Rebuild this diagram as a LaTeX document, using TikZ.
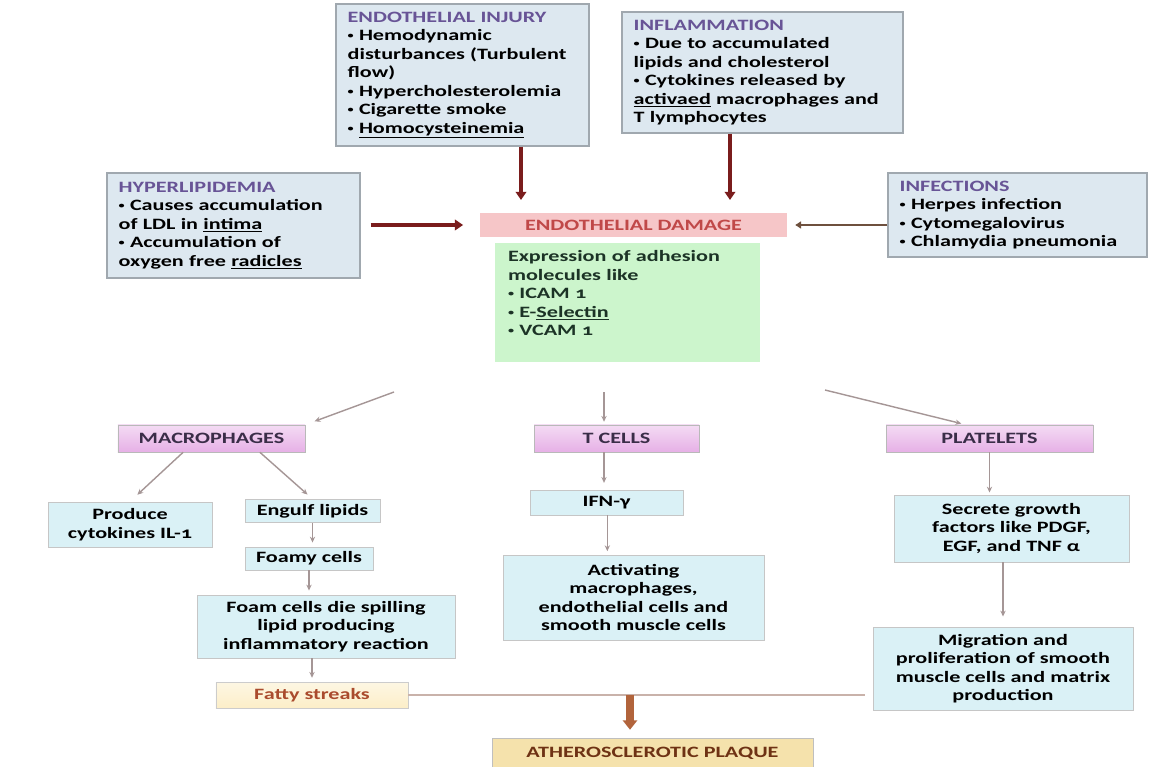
\documentclass[tikz,border=0pt]{standalone}
\usepackage{fontspec}
\usepackage{graphicx}
\setmainfont{Carlito}[FakeStretch=1.4, Numbers=OldStyle]
\definecolor{BoxBlue}{RGB}{221,232,240}
\definecolor{BoxEdge}{RGB}{160,168,175}
\definecolor{TitlePurple}{RGB}{104,84,150}
\definecolor{DarkRed}{RGB}{122,28,28}
\definecolor{DamagePink}{RGB}{246,198,200}
\definecolor{DamageText}{RGB}{192,72,72}
\definecolor{AdhesionGreen}{RGB}{204,245,204}
\definecolor{AdhesionText}{RGB}{28,51,38}
\definecolor{CellPink}{RGB}{230,176,230}
\definecolor{CellText}{RGB}{58,45,72}
\definecolor{CellCyan}{RGB}{218,241,246}
\definecolor{ArrowGrey}{RGB}{165,150,150}
\definecolor{StreakCream}{RGB}{252,238,200}
\definecolor{StreakText}{RGB}{170,75,45}
\definecolor{PlaqueTan}{RGB}{245,226,172}
\definecolor{PlaqueText}{RGB}{110,50,20}
\definecolor{PlaqueArrow}{RGB}{178,100,60}
\definecolor{InfectBrown}{RGB}{110,80,62}
\definecolor{JoinGrey}{RGB}{201,178,170}
\usetikzlibrary{arrows.meta, shadings}
\newcommand{\bul}{\raisebox{0.12em}{\scalebox{0.55}{\textbullet}}}

\begin{document}
\begin{tikzpicture}[
    x=0.03cm, y=-0.03cm,
    every node/.style={font=\fontsize{13.5}{15.8}\selectfont\bfseries, inner sep=4pt},
    srcbox/.style={draw=BoxEdge, fill=BoxBlue, line width=1.2pt, align=left, inner xsep=0.35cm},
    damagebar/.style={fill=DamagePink, text=DamageText, align=center},
    adhesion/.style={fill=AdhesionGreen, text=AdhesionText, align=left, inner xsep=0.39cm},
    cellhead/.style={draw=gray!55, top color=CellPink!45, bottom color=CellPink, text=CellText, align=center},
    cellbox/.style={draw=gray!45, fill=CellCyan, line width=0.8pt, align=center},
    streak/.style={draw=gray!40, top color=StreakCream!50, bottom color=StreakCream, text=StreakText, align=center},
    plaquebox/.style={draw=gray!50, fill=PlaqueTan, text=PlaqueText, align=center},
    bigarrow/.style={-{Triangle[length=7pt, width=9pt]}, DarkRed, line width=3.8pt},
    infarrow/.style={-{Triangle[length=5pt, width=6pt]}, InfectBrown, line width=2.2pt},
    greyarrow/.style={-{Stealth[length=5pt, width=4.5pt]}, ArrowGrey, line width=1.2pt},
    joinline/.style={JoinGrey, line width=1.5pt},
    plaquearrow/.style={-{Triangle[length=8pt, width=12pt]}, PlaqueArrow, line width=7pt}
]
\path[use as bounding box, fill=white] (0,0) rectangle (1173,767);

\node[srcbox, text width=6.89cm, minimum height=4.26cm] (injury) at (462.5,75)
    {{\color{TitlePurple}ENDOTHELIAL INJURY}\\
     \bul{} Hemodynamic\\
     disturbances (Turbulent\\
     flow)\\
     \bul{} Hypercholesterolemia\\
     \bul{} Cigarette smoke\\
     \bul{} \underline{Homocysteinemia}};
\node[srcbox, text width=7.73cm, minimum height=3.63cm] (inflam) at (762.5,72.5)
    {{\color{TitlePurple}INFLAMMATION}\\
     \bul{} Due to accumulated\\
     lipids and cholesterol\\
     \bul{} Cytokines released by\\
     \underline{activaed} macrophages and\\
     T lymphocytes};
\node[srcbox, text width=6.89cm, minimum height=3.15cm] (hyper) at (233.5,225.5)
    {{\color{TitlePurple}HYPERLIPIDEMIA}\\
     \bul{} Causes accumulation\\
     of LDL in \underline{intima}\\
     \bul{} Accumulation of\\
     oxygen free \underline{radicles}};
\node[srcbox, text width=7.07cm, minimum height=2.52cm] (infect) at (1017.5,215)
    {{\color{TitlePurple}INFECTIONS}\\
     \bul{} Herpes infection\\
     \bul{} Cytomegalovirus\\
     \bul{} Chlamydia pneumonia};

\node[damagebar, minimum width=9.21cm, minimum height=0.72cm] (damage) at (633.5,225) {ENDOTHELIAL DAMAGE};
\node[adhesion, text width=7.17cm, minimum height=3.57cm] (adh) at (627.5,302.5)
    {Expression of adhesion\\
     molecules like\\
     \bul{} ICAM 1\\
     \bul{} E-\underline{Selectin}\\
     \bul{} VCAM 1\\
     ~};

\node[cellhead, minimum width=5.61cm, minimum height=0.81cm] (macro) at (211.5,438.5) {MACROPHAGES};
\node[cellhead, minimum width=4.95cm, minimum height=0.81cm] (tcell) at (616.5,438.5) {T CELLS};
\node[cellhead, minimum width=6.21cm, minimum height=0.81cm] (platel) at (989.5,438.5) {PLATELETS};

\node[cellbox, minimum width=4.92cm, minimum height=1.35cm] (produce) at (130,524.5) {Produce\\cytokines IL-1};
\node[cellbox, minimum width=4.05cm, minimum height=0.66cm] (engulf) at (312.5,511) {Engulf lipids};
\node[cellbox, minimum width=3.84cm, minimum height=0.69cm] (foamy) at (309,558.5) {Foamy cells};
\node[cellbox, minimum width=7.74cm, minimum height=1.89cm] (foamdie) at (326,626.5)
    {Foam cells die spilling\\lipid producing\\inflammatory reaction};
\node[streak, minimum width=5.76cm, minimum height=0.78cm] (fatty) at (312,695) {Fatty streaks};

\node[cellbox, minimum width=4.59cm, minimum height=0.75cm] (ifn) at (606.5,502.5) {IFN-γ};
\node[cellbox, minimum width=7.83cm, minimum height=2.55cm] (activ) at (633.5,597.5)
    {Activating\\macrophages,\\endothelial cells and\\smooth muscle cells};

\node[cellbox, minimum width=7.05cm, minimum height=2.01cm] (secrete) at (1011.5,528.5)
    {Secrete growth\\factors like PDGF,\\EGF, and TNF α};
\node[cellbox, minimum width=7.8cm, minimum height=2.49cm] (migr) at (1003,668.5)
    {Migration and\\proliferation of smooth\\muscle cells and matrix\\production};

\node[plaquebox, minimum width=9.63cm, minimum height=0.9cm] (plaque) at (652.5,753) {ATHEROSCLEROTIC PLAQUE};

\coordinate (injTip) at (521,200);
\coordinate (infTip) at (730,200);
\coordinate (gL) at (394,392);
\coordinate (gM) at (604,392);
\coordinate (gR) at (825,390);
\coordinate (join) at (630,695);

\draw[bigarrow] (injury.south -| injTip) -- (injTip);
\draw[bigarrow] (inflam.south -| infTip) -- (infTip);
\draw[bigarrow, shorten <=0.3cm, shorten >=0.5cm] (damage.west -| hyper.east) -- (damage.west);
\draw[infarrow, shorten >=0.24cm] (damage.east -| infect.west) -- (damage.east);

\draw[greyarrow, shorten >=0.3cm] (gL) -- (macro.north east);
\draw[greyarrow, shorten >=0.09cm] (gM) -- (gM |- tcell.north);
\draw[greyarrow, shorten >=0.15cm] (gR) -- ([xshift=-0.7cm]platel.north);

\draw[greyarrow, shorten >=0.3cm] ([xshift=-0.85cm]macro.south) -- (produce.north);
\draw[greyarrow, shorten >=0.2cm] ([xshift=1.45cm]macro.south) -- (engulf.north);
\draw[greyarrow, shorten >=0.12cm] (engulf.south) -- (engulf.south |- foamy.north);
\draw[greyarrow, shorten >=0.12cm] (foamy.south) -- (foamy.south |- foamdie.north);
\draw[greyarrow, shorten >=0.12cm] (foamdie.south -| fatty.north) -- (fatty.north);

\draw[greyarrow, shorten >=0.2cm] (tcell.south -| gM) -- (ifn.north -| gM);
\draw[greyarrow, shorten >=0.1cm] ([xshift=0.1cm]ifn.south -| gM) -- ([xshift=0.1cm]activ.north -| gM);

\draw[greyarrow, shorten >=0.06cm] (platel.south) -- (platel.south |- secrete.north);
\draw[greyarrow, shorten >=0.3cm] (secrete.south -| migr.north) -- (migr.north);

\draw[joinline, shorten >=0.24cm] (fatty.east) -- (fatty.east -| migr.west);
\draw[plaquearrow, shorten >=0.24cm] (join) -- (join |- plaque.north);
\end{tikzpicture}
\end{document}
